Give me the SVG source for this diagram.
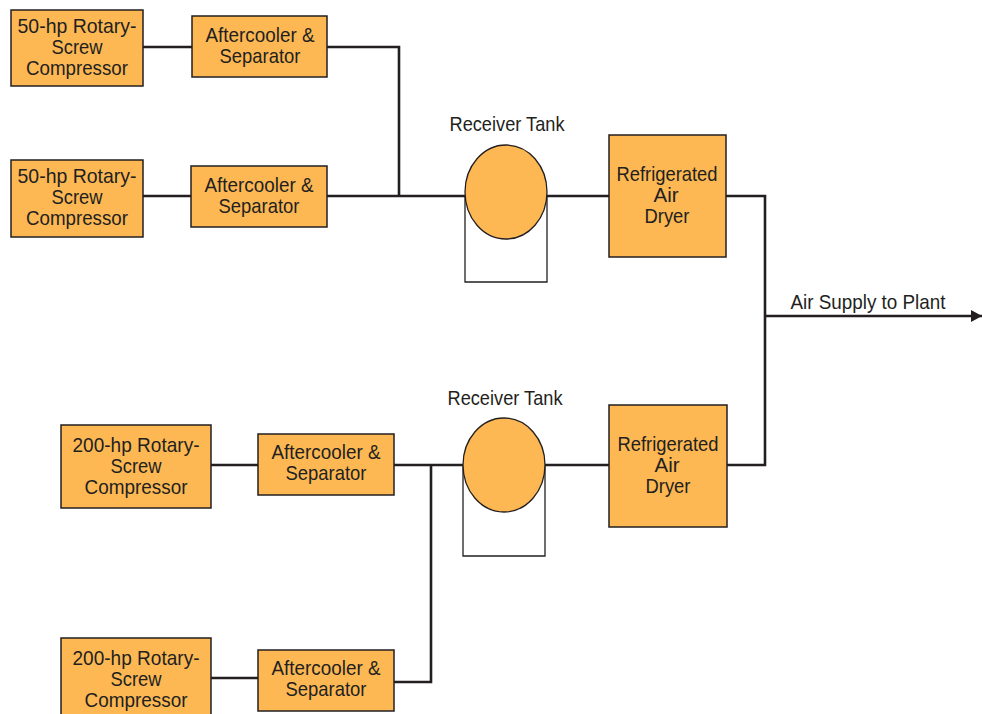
<svg xmlns="http://www.w3.org/2000/svg" width="982" height="714" viewBox="0 0 982 714">
<defs>
<style>
.box{fill:#FDB853;stroke:#231F20;stroke-width:1.5}
.tank{fill:#FDB853;stroke:#231F20;stroke-width:1.3}
.stand{fill:#fff;stroke:#231F20;stroke-width:1.3}
.wire{fill:none;stroke:#231F20;stroke-width:2.6}
text{font-family:"Liberation Sans",Arial,sans-serif;font-size:21px;fill:#231F20;text-anchor:middle}
</style>
<marker id="arr" markerWidth="11" markerHeight="12" refX="11" refY="6" orient="auto" markerUnits="userSpaceOnUse">
<path d="M0,0 L11,6 L0,12 Z" fill="#231F20"/>
</marker>
</defs>
<rect width="982" height="714" fill="#fff"/>

<g id="connectors">
<path class="wire" d="M143,47 H192"/>
<path class="wire" d="M327,47 H399 V196"/>
<path class="wire" d="M143,196 H191"/>
<path class="wire" d="M327,196 H465"/>
<path class="wire" d="M547,196 H609"/>
<path class="wire" d="M726,196 H765 V465 H727"/>
<path class="wire" d="M765,316 H982" marker-end="url(#arr)"/>
<path class="wire" d="M211,465 H258"/>
<path class="wire" d="M394,465 H463"/>
<path class="wire" d="M545,465 H609"/>
<path class="wire" d="M431,465 V682 H394"/>
<path class="wire" d="M211,678 H258"/>
</g>

<g id="comp1">
<rect class="box" x="11" y="10" width="132" height="76"/>
<text x="77" y="33" textLength="119" lengthAdjust="spacingAndGlyphs">50-hp Rotary-</text>
<text x="77" y="54" textLength="51" lengthAdjust="spacingAndGlyphs">Screw</text>
<text x="77" y="75" textLength="102" lengthAdjust="spacingAndGlyphs">Compressor</text>
</g>
<g id="ac1">
<rect class="box" x="192" y="16" width="135" height="61"/>
<text x="260" y="42" textLength="109" lengthAdjust="spacingAndGlyphs">Aftercooler &amp;</text>
<text x="260" y="63" textLength="81" lengthAdjust="spacingAndGlyphs">Separator</text>
</g>
<g id="comp2">
<rect class="box" x="11" y="160" width="132" height="77"/>
<text x="77" y="183" textLength="119" lengthAdjust="spacingAndGlyphs">50-hp Rotary-</text>
<text x="77" y="204" textLength="51" lengthAdjust="spacingAndGlyphs">Screw</text>
<text x="77" y="225" textLength="102" lengthAdjust="spacingAndGlyphs">Compressor</text>
</g>
<g id="ac2">
<rect class="box" x="191" y="166" width="136" height="61"/>
<text x="259" y="192" textLength="109" lengthAdjust="spacingAndGlyphs">Aftercooler &amp;</text>
<text x="259" y="213" textLength="81" lengthAdjust="spacingAndGlyphs">Separator</text>
</g>
<g id="tank1">
<text x="507" y="131" textLength="115" lengthAdjust="spacingAndGlyphs">Receiver Tank</text>
<path class="stand" d="M465,196 V282 H547 V196"/>
<ellipse class="tank" cx="506" cy="192" rx="41" ry="47"/>
</g>
<g id="dryer1">
<rect class="box" x="609" y="135" width="117" height="122"/>
<text x="667" y="181" textLength="101" lengthAdjust="spacingAndGlyphs">Refrigerated</text>
<text x="666" y="202" textLength="25" lengthAdjust="spacingAndGlyphs">Air</text>
<text x="667" y="223" textLength="45" lengthAdjust="spacingAndGlyphs">Dryer</text>
</g>
<g id="supply">
<text x="868" y="309" textLength="155" lengthAdjust="spacingAndGlyphs">Air Supply to Plant</text>
</g>
<g id="comp3">
<rect class="box" x="61" y="425" width="150" height="83"/>
<text x="136" y="452" textLength="127" lengthAdjust="spacingAndGlyphs">200-hp Rotary-</text>
<text x="136" y="473" textLength="51" lengthAdjust="spacingAndGlyphs">Screw</text>
<text x="136" y="494" textLength="103" lengthAdjust="spacingAndGlyphs">Compressor</text>
</g>
<g id="ac3">
<rect class="box" x="258" y="434" width="136" height="61"/>
<text x="326" y="459" textLength="109" lengthAdjust="spacingAndGlyphs">Aftercooler &amp;</text>
<text x="326" y="480" textLength="81" lengthAdjust="spacingAndGlyphs">Separator</text>
</g>
<g id="tank2">
<text x="505" y="405" textLength="115" lengthAdjust="spacingAndGlyphs">Receiver Tank</text>
<path class="stand" d="M463,465 V556 H545 V465"/>
<ellipse class="tank" cx="504" cy="465" rx="41" ry="47"/>
</g>
<g id="dryer2">
<rect class="box" x="609" y="405" width="118" height="122"/>
<text x="668" y="451" textLength="101" lengthAdjust="spacingAndGlyphs">Refrigerated</text>
<text x="667" y="472" textLength="25" lengthAdjust="spacingAndGlyphs">Air</text>
<text x="668" y="493" textLength="45" lengthAdjust="spacingAndGlyphs">Dryer</text>
</g>
<g id="comp4">
<rect class="box" x="61" y="638" width="150" height="80"/>
<text x="136" y="665" textLength="127" lengthAdjust="spacingAndGlyphs">200-hp Rotary-</text>
<text x="136" y="686" textLength="51" lengthAdjust="spacingAndGlyphs">Screw</text>
<text x="136" y="707" textLength="103" lengthAdjust="spacingAndGlyphs">Compressor</text>
</g>
<g id="ac4">
<rect class="box" x="258" y="650" width="136" height="61"/>
<text x="326" y="675" textLength="109" lengthAdjust="spacingAndGlyphs">Aftercooler &amp;</text>
<text x="326" y="696" textLength="81" lengthAdjust="spacingAndGlyphs">Separator</text>
</g>
</svg>
